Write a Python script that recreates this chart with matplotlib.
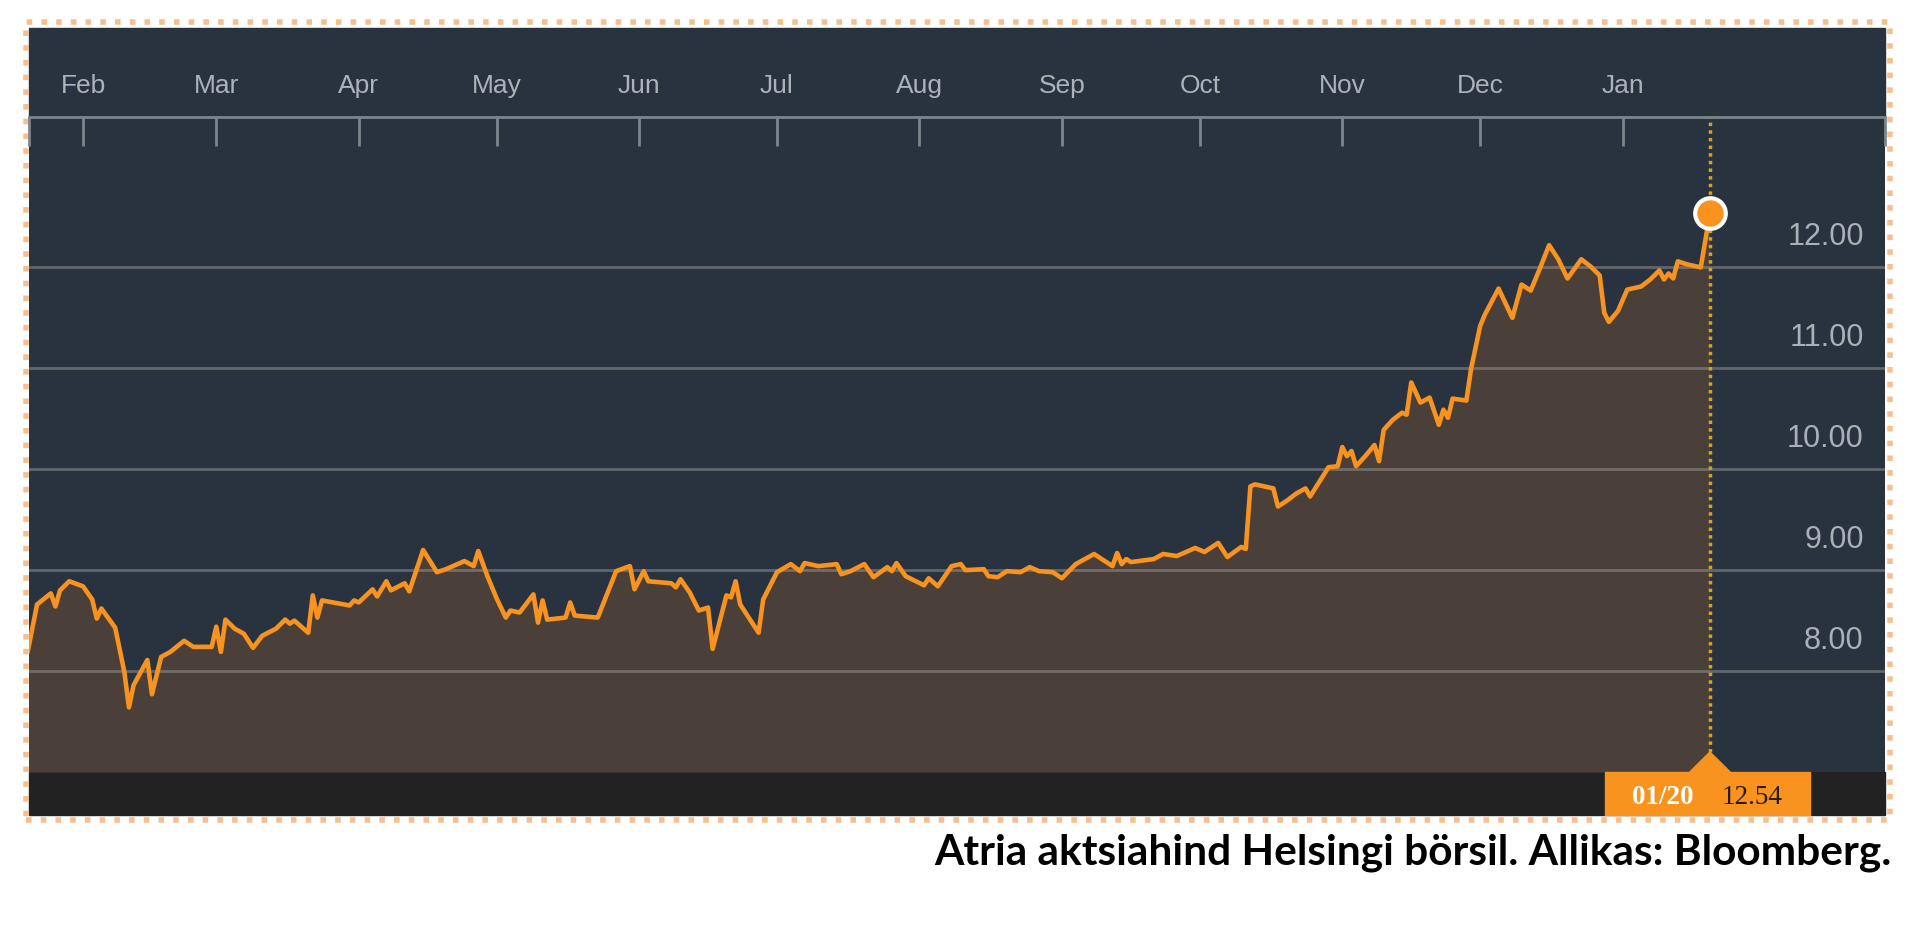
import pandas as pd
import matplotlib.pyplot as plt
import matplotlib.dates as mdates
from matplotlib.patches import Rectangle, Polygon
from matplotlib.transforms import blended_transform_factory

# Atria share price, Helsinki
dates = [
    '2016-01-20', '2016-01-22', '2016-01-25', '2016-01-26', '2016-01-27', '2016-01-29',
    '2016-02-01', '2016-02-03', '2016-02-04', '2016-02-05', '2016-02-08', '2016-02-10',
    '2016-02-11', '2016-02-12', '2016-02-15', '2016-02-16', '2016-02-18', '2016-02-20',
    '2016-02-23', '2016-02-25', '2016-02-29',
    '2016-03-01', '2016-03-02', '2016-03-03', '2016-03-05', '2016-03-07', '2016-03-09',
    '2016-03-11', '2016-03-14', '2016-03-16', '2016-03-17', '2016-03-18', '2016-03-21',
    '2016-03-22', '2016-03-23', '2016-03-24', '2016-03-30', '2016-03-31',
    '2016-04-01', '2016-04-04', '2016-04-05', '2016-04-07', '2016-04-08', '2016-04-11',
    '2016-04-12', '2016-04-15', '2016-04-18', '2016-04-20', '2016-04-24', '2016-04-26',
    '2016-04-27', '2016-04-29',
    '2016-05-01', '2016-05-03', '2016-05-04', '2016-05-06', '2016-05-09', '2016-05-10',
    '2016-05-11', '2016-05-12', '2016-05-16', '2016-05-17', '2016-05-18', '2016-05-23',
    '2016-05-25', '2016-05-27', '2016-05-30', '2016-05-31',
    '2016-06-02', '2016-06-03', '2016-06-08', '2016-06-09', '2016-06-10', '2016-06-12',
    '2016-06-14', '2016-06-16', '2016-06-17', '2016-06-20', '2016-06-21', '2016-06-22',
    '2016-06-23', '2016-06-27', '2016-06-28',
    '2016-07-01', '2016-07-04', '2016-07-06', '2016-07-07', '2016-07-10', '2016-07-14',
    '2016-07-15', '2016-07-17', '2016-07-20', '2016-07-22', '2016-07-25', '2016-07-26',
    '2016-07-27', '2016-07-29',
    '2016-08-02', '2016-08-03', '2016-08-05', '2016-08-08', '2016-08-10', '2016-08-11',
    '2016-08-15', '2016-08-16', '2016-08-18', '2016-08-20', '2016-08-23', '2016-08-25',
    '2016-08-27', '2016-08-30',
    '2016-09-01', '2016-09-04', '2016-09-08', '2016-09-12', '2016-09-13', '2016-09-14',
    '2016-09-15', '2016-09-16', '2016-09-21', '2016-09-23', '2016-09-26', '2016-09-30',
    '2016-10-02', '2016-10-05', '2016-10-07', '2016-10-10', '2016-10-11', '2016-10-12',
    '2016-10-13', '2016-10-17', '2016-10-18', '2016-10-20', '2016-10-22', '2016-10-24',
    '2016-10-25', '2016-10-29', '2016-10-31',
    '2016-11-01', '2016-11-02', '2016-11-03', '2016-11-04', '2016-11-06', '2016-11-08',
    '2016-11-09', '2016-11-10', '2016-11-12', '2016-11-14', '2016-11-15', '2016-11-16',
    '2016-11-18', '2016-11-20', '2016-11-22', '2016-11-23', '2016-11-24', '2016-11-25',
    '2016-11-28', '2016-11-29',
    '2016-12-01', '2016-12-02', '2016-12-05', '2016-12-08', '2016-12-10', '2016-12-12',
    '2016-12-14', '2016-12-16', '2016-12-18', '2016-12-20', '2016-12-23', '2016-12-25',
    '2016-12-27', '2016-12-28', '2016-12-29', '2016-12-31',
    '2017-01-02', '2017-01-05', '2017-01-07', '2017-01-09', '2017-01-10', '2017-01-11',
    '2017-01-12', '2017-01-13', '2017-01-15', '2017-01-17', '2017-01-18', '2017-01-20',
]
prices = [
    8.20, 8.66, 8.77, 8.64, 8.80, 8.89,
    8.84, 8.71, 8.52, 8.62, 8.43, 7.99,
    7.64, 7.86, 8.11, 7.77, 8.14, 8.19,
    8.30, 8.24, 8.24,
    8.44, 8.19, 8.51, 8.42, 8.37, 8.23,
    8.35, 8.42, 8.51, 8.47, 8.50, 8.38,
    8.75, 8.53, 8.70, 8.65, 8.70,
    8.68, 8.81, 8.74, 8.89, 8.80, 8.87,
    8.79, 9.20, 8.98, 9.01, 9.09, 9.04,
    9.19, 8.94,
    8.72, 8.53, 8.60, 8.58, 8.76, 8.48,
    8.70, 8.51, 8.53, 8.68, 8.55, 8.53,
    8.76, 8.99, 9.04, 8.81,
    8.99, 8.89, 8.87, 8.83, 8.91, 8.78,
    8.60, 8.63, 8.22, 8.75, 8.73, 8.89,
    8.66, 8.38, 8.71,
    8.98, 9.06, 8.99, 9.07, 9.04, 9.06,
    8.96, 8.99, 9.06, 8.93, 9.03, 8.99,
    9.07, 8.94,
    8.85, 8.92, 8.84, 9.04, 9.06, 9.00,
    9.01, 8.94, 8.93, 8.99, 8.98, 9.03,
    8.99, 8.98,
    8.92, 9.06, 9.16, 9.04, 9.17, 9.06,
    9.11, 9.08, 9.11, 9.16, 9.14, 9.22,
    9.18, 9.27, 9.13, 9.23, 9.21, 9.83,
    9.85, 9.81, 9.63, 9.69, 9.76, 9.81,
    9.73, 10.02, 10.03,
    10.22, 10.13, 10.18, 10.03, 10.13, 10.24,
    10.08, 10.39, 10.49, 10.56, 10.54, 10.86,
    10.66, 10.71, 10.44, 10.59, 10.51, 10.70,
    10.68, 10.99,
    11.42, 11.53, 11.79, 11.50, 11.83, 11.77,
    11.99, 12.22, 12.08, 11.89, 12.08, 12.01,
    11.92, 11.55, 11.46, 11.57,
    11.78, 11.81, 11.88, 11.97, 11.88, 11.94,
    11.89, 12.06, 12.03, 12.01, 12.00, 12.54,
]
month_ticks = ['2016-02-01', '2016-03-01', '2016-04-01', '2016-05-01', '2016-06-01',
               '2016-07-01', '2016-08-01', '2016-09-01', '2016-10-01', '2016-11-01',
               '2016-12-01', '2017-01-01']
y_ticks = [8, 9, 10, 11, 12]
caption = 'Atria aktsiahind Helsingi börsil. Allikas: Bloomberg.'

dates = pd.to_datetime(dates)
month_ticks = pd.to_datetime(month_ticks)
x_start = pd.Timestamp('2016-01-20 06:00')
x_end = pd.Timestamp('2017-02-27 02:00')
y_min, y_max = 7.0, 13.49

panel = '#29323f'
fill = '#4a4039'
orange = '#f7931e'

W, H = 1920, 927
fig = plt.figure(figsize=(W / 100, H / 100), dpi=100)
fig.patch.set_facecolor('white')

def fx(px):
    return px / W

def fy(py):
    return 1 - py / H

# background pieces around the plot area (behind the axes)
fig.patches.append(Rectangle((fx(29), fy(117)), fx(1885) - fx(29), fy(28) - fy(117),
                             transform=fig.transFigure, color=panel, zorder=-2))
fig.patches.append(Rectangle((fx(29), fy(815)), fx(1885) - fx(29), fy(772) - fy(815),
                             transform=fig.transFigure, color='#222222', zorder=-2))
fig.patches.append(Rectangle((fx(25.5), fy(820)), fx(1890) - fx(25.5), fy(22) - fy(820),
                             transform=fig.transFigure, fill=False, edgecolor='#f5bf8e',
                             lw=4, ls=':', zorder=-2))

ax = fig.add_axes([fx(29), fy(772), fx(1885) - fx(29), fy(117) - fy(772)])
ax.set_facecolor(panel)
ax.set_xlim(x_start, x_end)
ax.set_ylim(y_min, y_max)

ax.fill_between(dates, prices, y_min, color=fill, lw=0, zorder=1)
for v in y_ticks:
    ax.axhline(v, color='#9a9a9a', alpha=0.5, lw=2, zorder=2)
ax.plot(dates, prices, color=orange, lw=3.3, solid_joinstyle='round', zorder=3)

# last value marker and dotted guide
ax.axvline(dates[-1], ymin=20 / 655, ymax=1, color='#d4a422', lw=2.5, ls=(0, (1, 1.2)), zorder=2)
ax.plot(dates[-1], prices[-1], 'o', ms=22, mfc=orange, mec='white', mew=3, zorder=5, clip_on=False)

# y labels sit above their gridlines, on the right
for v in y_ticks:
    ax.text(0.9885, v + 0.30, f'{v:.2f}', transform=ax.get_yaxis_transform(),
            ha='right', va='center', fontsize=22, color='#abb0b6', family='Liberation Sans')

ax.set_yticks([])
for s in ['left', 'right', 'bottom']:
    ax.spines[s].set_visible(False)
ax.spines['top'].set_color('#7d848c')
ax.spines['top'].set_linewidth(2)

ax.xaxis.tick_top()
ax.set_xticks(month_ticks)
ax.xaxis.set_major_formatter(mdates.DateFormatter('%b'))
ax.set_xticks([x_start, x_end], minor=True)
ax.tick_params(axis='x', which='both', direction='in', length=21, width=2,
               color='#7d848c', pad=14)
ax.tick_params(axis='x', which='major', labelsize=19, labelcolor='#adb2b8')
for lab in ax.get_xticklabels(which='major'):
    lab.set_family('Liberation Sans')

# date / value flag in the bottom bar
tr = blended_transform_factory(ax.transData, ax.transAxes)
xd = mdates.date2num(dates[-1])
ax.add_patch(Rectangle(((1605 - 29) / 1856, -43 / 655), 205 / 1856, 43 / 655,
                       transform=ax.transAxes, color=orange, clip_on=False, zorder=4))
ax.add_patch(Polygon([(xd - 4.4, 0), (xd + 4.4, 0), (xd, 20 / 655)], closed=True,
                     transform=tr, color=orange, clip_on=False, zorder=4))
ax.text((1663 - 29) / 1856, -26 / 655, dates[-1].strftime('%m/%d'), transform=ax.transAxes,
        ha='center', va='center', fontsize=19.5, color='white', fontweight='bold',
        family='Liberation Serif', zorder=6)
ax.text((1752 - 29) / 1856, -26 / 655, f'{prices[-1]:.2f}', transform=ax.transAxes,
        ha='center', va='center', fontsize=19.5, color='#2b1a0e', family='Liberation Serif',
        zorder=6)

fig.text(fx(1892), fy(853), caption, ha='right', va='center', fontsize=30.5,
         fontweight='bold', family='Lato', color='black')

fig.savefig('out.png', dpi=100, facecolor='white')
